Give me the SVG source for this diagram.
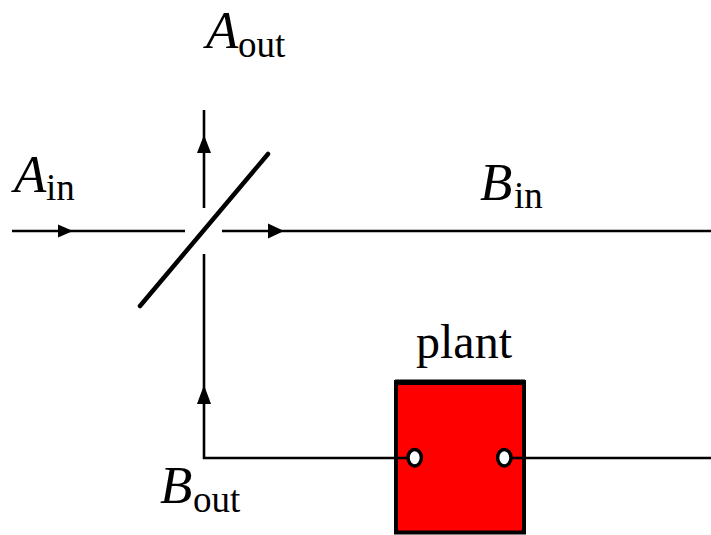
<svg xmlns="http://www.w3.org/2000/svg" width="711" height="535" viewBox="0 0 711 535">
<style>
.w{fill:none;stroke:#000;stroke-width:2.6}
.a{fill:#000;stroke:none}
text{font-family:"Liberation Serif","Times New Roman",serif;fill:#000}
.m{font-style:italic;font-size:53px}
.s{font-size:37px}
.p{font-size:48px}
.c{fill:#fff;stroke:#000;stroke-width:3.500}
</style>
<rect width="711" height="535" fill="#fff"/>
<g id="connectors">
<path class="w" d="M12,231H185"/>
<path class="w" d="M222,231H711"/>
<path class="w" d="M204,110V208"/>
<path class="w" d="M204,254V458H396"/>
<path class="w" d="M512,458H711"/>
<path class="a" d="M73,231L58,224.500V237.500Z"/>
<path class="a" d="M284,231L268,223.500V238.500Z"/>
<path class="a" d="M204,135L197,153H211Z"/>
<path class="a" d="M204,385L197,404H211Z"/>
</g>
<g id="beamsplitter">
<line x1="140" y1="306" x2="268" y2="154" stroke="#000" stroke-width="4.500" stroke-linecap="round"/>
</g>
<g id="plant">
<rect x="396" y="382" width="128" height="150.500" fill="#f00" stroke="#000" stroke-width="4"/>
<rect x="395" y="379.500" width="130" height="5.500" fill="#000"/>
<path class="w" d="M394,458H408"/>
<path class="w" d="M512,458H526"/>
<ellipse class="c" cx="414.700" cy="457.700" rx="6.700" ry="8.200"/>
<ellipse class="c" cx="504.300" cy="457.700" rx="6.700" ry="8.200"/>
<text class="p" x="464" y="358" text-anchor="middle">plant</text>
</g>
<g id="label-a-out"><text class="m" x="206" y="48">A</text><text class="s" x="238" y="57">out</text></g>
<g id="label-a-in"><text class="m" x="14" y="192">A</text><text class="s" x="46" y="200">in</text></g>
<g id="label-b-in"><text class="m" x="480" y="200">B</text><text class="s" x="514" y="208">in</text></g>
<g id="label-b-out"><text class="m" x="160" y="503">B</text><text class="s" x="193" y="512">out</text></g>
</svg>
